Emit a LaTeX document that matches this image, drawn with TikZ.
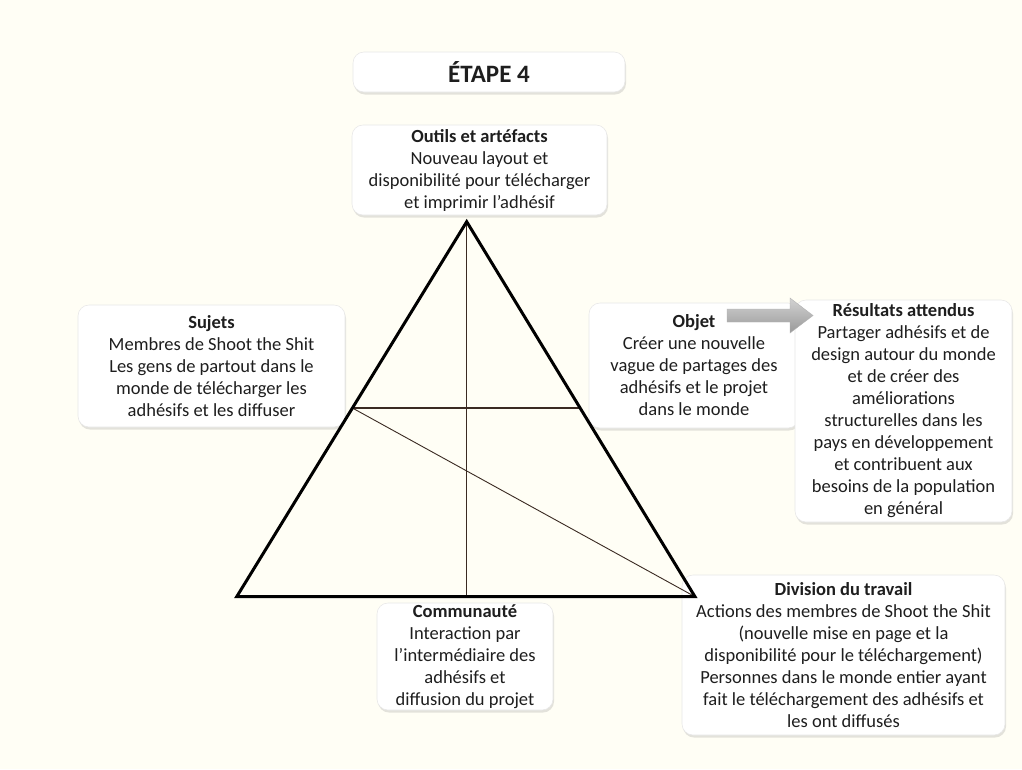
\documentclass[tikz,border=0pt]{standalone}
\usepackage{fontspec}
\setmainfont{Carlito}
\usetikzlibrary{shadows}
\definecolor{bg}{HTML}{FFFEF5}
\definecolor{txt}{HTML}{1E1E1E}
\definecolor{inner}{HTML}{3A2A22}
\begin{document}
\begin{tikzpicture}[x=1pt,y=-1pt,
  box/.style={rounded corners=11pt, fill=white, draw=gray!18, line width=0.6pt,
    drop shadow={opacity=0.22,shadow xshift=1pt,shadow yshift=-2.5pt},
    align=center, font=\fontsize{18.5}{22}\selectfont, text=txt, inner sep=0pt},
  tri/.style={line width=3pt, line join=miter, draw=black},
  innerline/.style={line width=1.1pt, draw=inner}]
\fill[bg] (0,0) rectangle (1022,769);
\useasboundingbox (0,0) rectangle (1022,769);

% boxes
\node[box, minimum width=272pt, minimum height=40pt, font=\fontsize{25}{28}\selectfont\bfseries] (title) at (489,72) {ÉTAPE 4};
\node[box, minimum width=255pt, minimum height=90pt] (outils) at (479.5,170) {\textbf{Outils et artéfacts}\\Nouveau layout et\\disponibilité pour télécharger\\et imprimir l’adhésif};
\node[box, minimum width=267pt, minimum height=122pt] (sujets) at (211.5,366) {\textbf{Sujets}\\Membres de Shoot the Shit\\Les gens de partout dans le\\monde de télécharger les\\adhésifs et les diffuser};
\node[box, minimum width=210pt, minimum height=125pt] (objet) at (694,365.5) {\textbf{Objet}\\Créer une nouvelle\\vague de partages des\\adhésifs et le projet\\dans le monde};
\node[box, minimum width=217pt, minimum height=222pt] (result) at (903.5,411) {\textbf{Résultats attendus}\\Partager adhésifs et de\\design autour du monde\\et de créer des\\améliorations\\structurelles dans les\\pays en développement\\et contribuent aux\\besoins de la population\\en général};
\node[box, minimum width=176pt, minimum height=107pt] (comm) at (465,656.5) {\textbf{Communauté}\\Interaction par\\l’intermédiaire des\\adhésifs et\\diffusion du projet};
\node[box, minimum width=323pt, minimum height=160pt] (div) at (843.5,655) {\textbf{Division du travail}\\Actions des membres de Shoot the Shit\\(nouvelle mise en page et la\\disponibilité pour le téléchargement)\\Personnes dans le monde entier ayant\\fait le téléchargement des adhésifs et\\les ont diffusés};

% block arrow
\shade[top color=gray!35, bottom color=gray!80, draw=gray!60, line width=0.4pt]
  (727,309) -- (790,309) -- (790,298) -- (813,315.5) -- (790,333) -- (790,322) -- (727,322) -- cycle;

% triangle
\coordinate (A) at (466.7,221.7);
\coordinate (BL) at (236.7,596.7);
\coordinate (BR) at (695,596.7);
\coordinate (ML) at (352.4,408);
\coordinate (MR) at (580.1,408);
\coordinate (F) at (466.7,596.7);
\draw[innerline] (A) -- (F);
\draw[innerline] (ML) -- (MR);
\draw[innerline, line width=0.9pt] (ML) -- (BR);
\draw[tri] (A) -- (BL) -- (BR) -- cycle;
\end{tikzpicture}
\end{document}
